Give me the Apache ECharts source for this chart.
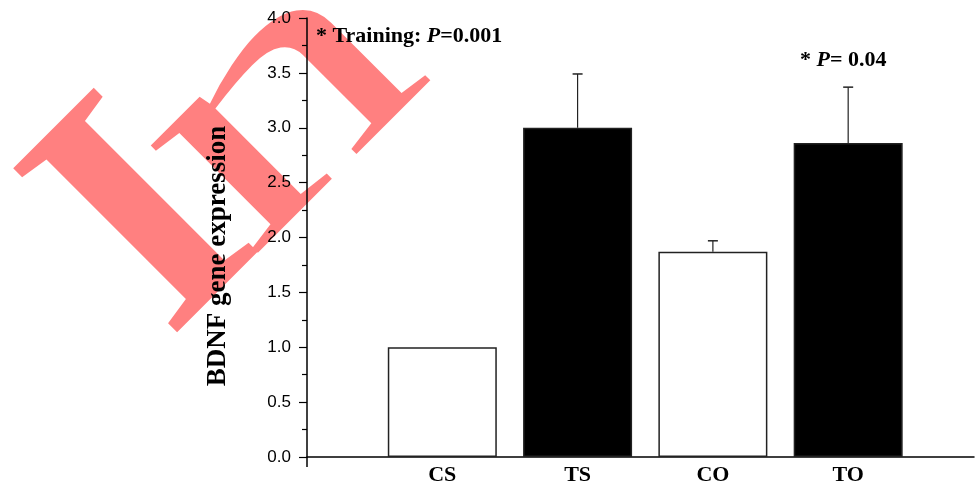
<!DOCTYPE html>
<html><head><meta charset="utf-8">
<script src="https://cdn.jsdelivr.net/npm/echarts@6/dist/echarts.min.js"></script>
<style>html,body{margin:0;padding:0;background:#fff}#c{width:977px;height:486px}</style>
</head><body><div id="c"></div>
<script>
var categories = ['CS', 'TS', 'CO', 'TO'];
var means = [1.0, 3.0, 1.87, 2.86];
var errUpper = [null, 3.49, 1.97, 3.37];
var fills = ['#ffffff', '#000000', '#ffffff', '#000000'];
var yTicks = ['0.0','0.5','1.0','1.5','2.0','2.5','3.0','3.5','4.0'];

var chart = echarts.init(document.getElementById('c'), null, {renderer: 'canvas'});
var serif = '"Liberation Serif","Times New Roman",serif';
var sans = '"Liberation Sans",Arial,sans-serif';

var barData = means.map(function (v, i) {
  return {value: [i + 1, v], itemStyle: {color: fills[i]}};
});
var errData = [];
means.forEach(function (v, i) { if (errUpper[i] != null) errData.push([i + 1, v, errUpper[i]]); });

var option = {
  animation: false,
  backgroundColor: '#fff',
  grid: {left: 307, right: 0, top: 18, bottom: 28, containLabel: false},
  xAxis: {
    type: 'value', min: 0, max: 4.93, interval: 1,
    axisLine: {show: true, onZero: false, lineStyle: {color: '#000', width: 1.5}},
    axisTick: {show: false},
    splitLine: {show: false},
    axisLabel: {
      margin: 7, color: '#000', fontFamily: serif, fontWeight: 'bold', fontSize: 22,
      formatter: function (v) { var k = Math.round(v); return (Math.abs(v - k) < 1e-6 && k >= 1 && k <= categories.length) ? categories[k - 1] : ''; }
    }
  },
  yAxis: {
    type: 'value', min: 0, max: 4, interval: 0.5,
    axisLine: {show: true, lineStyle: {color: '#000', width: 1.5}},
    axisTick: {show: true, length: 8, lineStyle: {color: '#000', width: 1.2}},
    minorTick: {show: true, splitNumber: 2, length: 5, lineStyle: {color: '#000', width: 1.2}},
    splitLine: {show: false},
    axisLabel: {
      margin: 16, color: '#000', fontFamily: sans, fontSize: 17,
      formatter: function (v) { return yTicks[Math.round(v / 0.5)]; }
    }
  },
  graphic: [
    {type: 'text', z: -10, x: 104, y: 276, rotation: Math.PI / 4,
     style: {text: 'I', fill: '#ff8080', font: 'bold 354px "Liberation Serif"', textAlign: 'left', textVerticalAlign: 'middle'}},
    {type: 'text', z: -10, x: 188, y: 200, rotation: Math.PI / 4, scaleX: 1.6,
     style: {text: 'n', fill: '#ff8080', font: '330px "Liberation Serif"', textAlign: 'left', textVerticalAlign: 'middle'}},
    {type: 'text', x: 218, y: 256, rotation: Math.PI / 2,
     style: {text: 'BDNF gene expression', fill: '#000', font: 'bold 27px "Liberation Serif"', textAlign: 'center', textVerticalAlign: 'middle'}},
    {type: 'text', x: 316, y: 36,
     style: {rich: {b: {font: 'bold 22px "Liberation Serif"', fill: '#000'}, i: {font: 'italic bold 22px "Liberation Serif"', fill: '#000'}},
       text: '{b|* Training: }{i|P}{b|=0.001}', textVerticalAlign: 'middle'}},
    {type: 'text', x: 800, y: 60,
     style: {rich: {b: {font: 'bold 22px "Liberation Serif"', fill: '#000'}, i: {font: 'italic bold 22px "Liberation Serif"', fill: '#000'}},
       text: '{b|* }{i|P}{b|= 0.04}', textVerticalAlign: 'middle'}}
  ],
  series: [
    {
      type: 'bar', data: barData, barWidth: 109,
      itemStyle: {borderColor: '#222', borderWidth: 1.5},
      z: 2
    },
    {
      type: 'custom', data: errData, z: 3,
      renderItem: function (params, api) {
        var x = api.value(0);
        var p0 = api.coord([x, api.value(1)]);
        var p1 = api.coord([x, api.value(2)]);
        return {type: 'group', children: [
          {type: 'line', shape: {x1: p0[0], y1: p0[1], x2: p1[0], y2: p1[1]}, style: {stroke: '#222', lineWidth: 1.2}},
          {type: 'line', shape: {x1: p1[0] - 5, y1: p1[1], x2: p1[0] + 5, y2: p1[1]}, style: {stroke: '#222', lineWidth: 1.5}}
        ]};
      }
    }
  ]
};
chart.setOption(option);
var o = chart.convertToPixel({xAxisIndex: 0, yAxisIndex: 0}, [0, 0]);
chart.setOption({graphic: option.graphic.concat([
  {type: 'line', shape: {x1: o[0], y1: o[1], x2: o[0], y2: o[1] + 10}, style: {stroke: '#000', lineWidth: 1.5}}
])});
</script></body></html>
